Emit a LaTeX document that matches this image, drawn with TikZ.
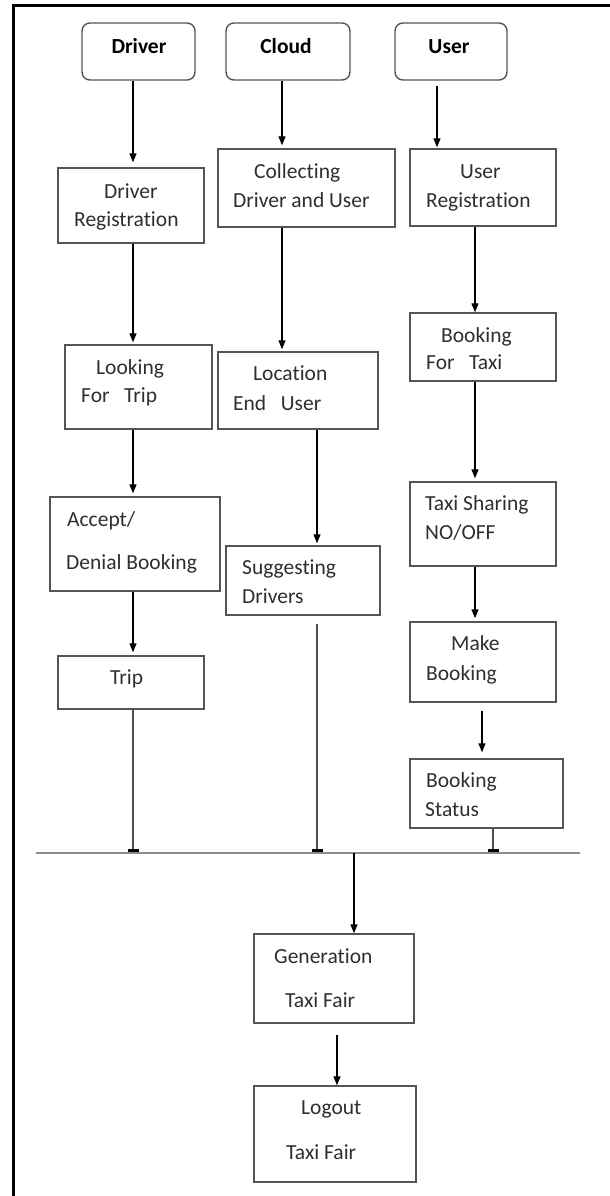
\documentclass[tikz,border=0pt]{standalone}
\usepackage{fontspec}
\setmainfont[Ligatures=NoCommon]{Carlito}
\usetikzlibrary{arrows.meta,calc}
\begin{document}
\begin{tikzpicture}[x=1pt,y=-1pt,
  box/.style={draw=boxgray,line width=1.4pt,fill=none,inner sep=0pt,minimum width=#1},
  headbox/.style={draw=boxgray,line width=1.4pt,rounded corners=8pt,inner sep=0pt,minimum height=57pt,minimum width=#1},
  txt/.style={anchor=mid west,inner sep=0pt,text=txtgray,font=\fontsize{21.5}{26}\selectfont,yshift=-4pt},
  htxt/.style={anchor=mid,inner sep=0pt,text=black,font=\fontsize{21.5}{26}\selectfont\bfseries,yshift=-4pt},
  arr/.style={draw=black,line width=1.2pt,-{Triangle[length=9pt,width=7pt]}},
  tick/.style={draw=black!70,line width=1.3pt,-{Rectangle[length=3.5pt,width=11pt,color=black]},shorten >=1pt},
  bus/.style={draw=black!45,line width=2.6pt}
]
\definecolor{boxgray}{HTML}{555555}
\definecolor{txtgray}{HTML}{2E2E2E}
\useasboundingbox (0,0) rectangle (610,1196);
% frame (top and left only)
\draw[line width=3pt,black] (13.5,1196) -- (13.5,6) -- (610,6);

% header boxes
\node[headbox=113pt] (drv) at (138.5,51.5) {};
\node[headbox=124pt] (cld) at (288,51.5) {};
\node[headbox=112pt] (usr) at (451,51.5) {};
\node[htxt] (drvT) at (139,47) {Driver};
\node[htxt] (cldT) at (286,47) {Cloud};
\node[htxt] (usrT) at (449,47) {User};

% boxes
\node[box=146pt,minimum height=75pt] (dreg) at (131,205.5) {};
\node[box=177pt,minimum height=78pt] (coll) at (306.5,188) {};
\node[box=146pt,minimum height=77pt] (ureg) at (483,187.5) {};
\node[box=147pt,minimum height=84pt] (look) at (138.5,387) {};
\node[box=160pt,minimum height=77pt] (loc) at (298,390.5) {};
\node[box=146pt,minimum height=68pt] (book) at (483,347) {};
\node[box=170pt,minimum height=94pt] (acc) at (135,544) {};
\node[box=154pt,minimum height=69pt] (sug) at (303,580.5) {};
\node[box=146pt,minimum height=84pt] (share) at (483,524) {};
\node[box=146pt,minimum height=53pt] (trip) at (131,682.5) {};
\node[box=146pt,minimum height=80pt] (make) at (483,662) {};
\node[box=153pt,minimum height=69pt] (stat) at (486.5,793.5) {};
\node[box=160pt,minimum height=89pt] (gen) at (334,978.5) {};
\node[box=162pt,minimum height=96pt] (logo) at (335,1134) {};

% texts
\node[txt] (dregA) at (104,192) {Driver};
\node[txt] (dregB) at (74,220) {Registration};
\node[txt] (collA) at (254,172) {Collecting};
\node[txt] (collB) at (233,201) {Driver and User};
\node[txt] (uregA) at (460,172) {User};
\node[txt] (uregB) at (426,201) {Registration};
\node[txt] (lookA) at (96,368) {Looking};
\node[txt] (lookB) at (81,396) {For\ \ \ Trip};
\node[txt] (locA) at (253,374) {Location};
\node[txt] (locB) at (233,404) {End\ \ \ User};
\node[txt] (bookA) at (441,336) {Booking};
\node[txt] (bookB) at (426,363) {For\ \ \ Taxi};
\node[txt] (shareA) at (425,504) {Taxi Sharing};
\node[txt] (shareB) at (425,533) {NO/OFF};
\node[txt] (accA) at (67,520) {Accept/};
\node[txt] (accB) at (66,563) {Denial Booking};
\node[txt] (sugA) at (242,568) {Suggesting};
\node[txt] (sugB) at (242,597) {Drivers};
\node[txt] (tripA) at (110,678) {Trip};
\node[txt] (makeA) at (451,644) {Make};
\node[txt] (makeB) at (426,674) {Booking};
\node[txt] (statA) at (426,781) {Booking};
\node[txt] (statB) at (425,810) {Status};
\node[txt] (genA) at (274,957) {Generation};
\node[txt] (genB) at (285,1001) {Taxi Fair};
\node[txt] (logoA) at (301,1108) {Logout};
\node[txt] (logoB) at (286,1153) {Taxi Fair};

% column coordinates
\coordinate (cD) at (133,0);
\coordinate (cC) at (282,0);
\coordinate (cC2) at (317,0);
\coordinate (cU) at (437,0);
\coordinate (cU2) at (475,0);
\coordinate (cU3) at (482,0);
\coordinate (cU4) at (493,0);
\coordinate (cG) at (354,0);
\coordinate (cG2) at (337,0);
\coordinate (busL) at (36,853);
\coordinate (busR) at (580,853);

% bus line
\draw[bus] (busL) -- (busR);

% arrows
\draw[arr,shorten >=5pt] (drv.south -| cD) -- (dreg.north -| cD);
\draw[arr,shorten >=3pt] (cld.south -| cC) -- (coll.north -| cC);
\draw[arr,shorten <=5pt,shorten >=1pt] (usr.south -| cU) -- (ureg.north -| cU);
\draw[arr,shorten >=2pt] (dreg.south -| cD) -- (look.north -| cD);
\draw[arr,shorten >=2pt] (coll.south -| cC) -- (loc.north -| cC);
\draw[arr] (ureg.south -| cU2) -- (book.north -| cU2);
\draw[arr,shorten >=3pt] (book.south -| cU2) -- (share.north -| cU2);
\draw[arr,shorten >=3pt] (look.south -| cD) -- (acc.north -| cD);
\draw[arr,shorten >=2pt] (loc.south -| cC2) -- (sug.north -| cC2);
\draw[arr,shorten >=3pt] (acc.south -| cD) -- (trip.north -| cD);
\draw[arr,shorten >=3pt] (share.south -| cU2) -- (make.north -| cU2);
\draw[arr,shorten <=8pt,shorten >=6pt] (make.south -| cU3) -- (stat.north -| cU3);
\draw[tick] (trip.south -| cD) -- (busL -| cD);
\draw[tick,shorten <=8pt] (sug.south -| cC2) -- (busL -| cC2);
\draw[tick] (stat.south -| cU4) -- (busL -| cU4);
\draw[arr] (busL -| cG) -- (gen.north -| cG);
\draw[arr,shorten <=11pt] (gen.south -| cG2) -- (logo.north -| cG2);
\end{tikzpicture}
\end{document}
